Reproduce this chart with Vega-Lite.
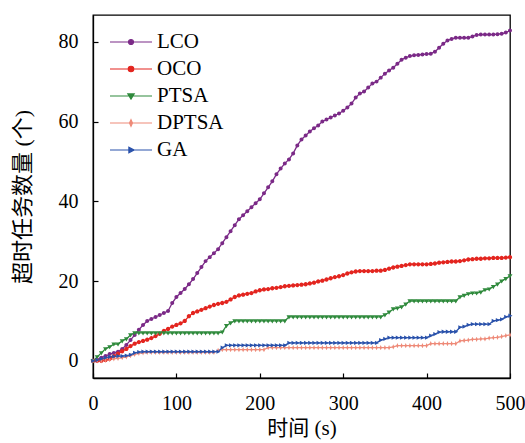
{
  "$schema": "https://vega.github.io/schema/vega-lite/v6.json",
  "width": 417,
  "height": 363,
  "autosize": {"type": "none"},
  "padding": {"left": 93, "top": 15, "right": 15, "bottom": 65},
  "background": "white",
  "config": {
    "view": {"stroke": "black", "strokeWidth": 1.3},
    "font": "Liberation Serif"
  },
  "data": {"values": [
    {"t":0,"LCO":0,"OCO":0,"PTSA":0,"DPTSA":0,"GA":0},
    {"t":5,"LCO":0.3,"OCO":0,"PTSA":1,"DPTSA":0,"GA":0.2},
    {"t":10,"LCO":0.8,"OCO":0,"PTSA":2,"DPTSA":0,"GA":0.5},
    {"t":15,"LCO":1.2,"OCO":0.2,"PTSA":3,"DPTSA":0.2,"GA":0.8},
    {"t":20,"LCO":1.7,"OCO":0.5,"PTSA":3.5,"DPTSA":0.3,"GA":1},
    {"t":25,"LCO":2,"OCO":1.2,"PTSA":4.2,"DPTSA":0.5,"GA":1.1},
    {"t":30,"LCO":2.3,"OCO":1.8,"PTSA":4.2,"DPTSA":0.6,"GA":1.2},
    {"t":35,"LCO":3,"OCO":2.4,"PTSA":5,"DPTSA":0.8,"GA":1.2},
    {"t":40,"LCO":4,"OCO":3,"PTSA":5.5,"DPTSA":1,"GA":1.3},
    {"t":45,"LCO":5.2,"OCO":3.7,"PTSA":6.5,"DPTSA":1.3,"GA":1.5},
    {"t":50,"LCO":6.5,"OCO":4.3,"PTSA":7,"DPTSA":1.6,"GA":2},
    {"t":55,"LCO":7.8,"OCO":4.7,"PTSA":7,"DPTSA":1.9,"GA":2.2},
    {"t":60,"LCO":9,"OCO":5,"PTSA":7,"DPTSA":2,"GA":2.3},
    {"t":65,"LCO":10,"OCO":5.3,"PTSA":7,"DPTSA":2.1,"GA":2.3},
    {"t":70,"LCO":10.5,"OCO":5.7,"PTSA":7,"DPTSA":2.1,"GA":2.3},
    {"t":75,"LCO":11,"OCO":6.2,"PTSA":7,"DPTSA":2.1,"GA":2.3},
    {"t":80,"LCO":11.5,"OCO":6.8,"PTSA":7,"DPTSA":2.1,"GA":2.3},
    {"t":85,"LCO":12,"OCO":7.5,"PTSA":7,"DPTSA":2.1,"GA":2.3},
    {"t":90,"LCO":12.5,"OCO":8,"PTSA":7,"DPTSA":2.1,"GA":2.3},
    {"t":95,"LCO":14.5,"OCO":8.6,"PTSA":7,"DPTSA":2.1,"GA":2.3},
    {"t":100,"LCO":16,"OCO":9,"PTSA":7,"DPTSA":2.1,"GA":2.3},
    {"t":105,"LCO":17,"OCO":9.4,"PTSA":7,"DPTSA":2.1,"GA":2.3},
    {"t":110,"LCO":18,"OCO":10,"PTSA":7,"DPTSA":2.1,"GA":2.3},
    {"t":115,"LCO":19.2,"OCO":11.2,"PTSA":7,"DPTSA":2.1,"GA":2.3},
    {"t":120,"LCO":20.5,"OCO":12,"PTSA":7,"DPTSA":2.1,"GA":2.3},
    {"t":125,"LCO":22,"OCO":12.4,"PTSA":7,"DPTSA":2.1,"GA":2.3},
    {"t":130,"LCO":23.5,"OCO":12.8,"PTSA":7,"DPTSA":2.1,"GA":2.3},
    {"t":135,"LCO":25,"OCO":13.2,"PTSA":7,"DPTSA":2.1,"GA":2.3},
    {"t":140,"LCO":26,"OCO":13.6,"PTSA":7,"DPTSA":2.1,"GA":2.3},
    {"t":145,"LCO":27,"OCO":14,"PTSA":7,"DPTSA":2.1,"GA":2.3},
    {"t":150,"LCO":28,"OCO":14.3,"PTSA":7,"DPTSA":2.6,"GA":2.3},
    {"t":155,"LCO":29.5,"OCO":14.5,"PTSA":7.2,"DPTSA":2.8,"GA":3.3},
    {"t":160,"LCO":31,"OCO":14.8,"PTSA":8.8,"DPTSA":2.8,"GA":3.9},
    {"t":165,"LCO":32.5,"OCO":15.4,"PTSA":9.5,"DPTSA":2.8,"GA":3.9},
    {"t":170,"LCO":34,"OCO":16,"PTSA":10,"DPTSA":2.8,"GA":3.9},
    {"t":175,"LCO":35.5,"OCO":16.4,"PTSA":10,"DPTSA":2.8,"GA":3.9},
    {"t":180,"LCO":36.5,"OCO":16.6,"PTSA":10,"DPTSA":2.8,"GA":3.9},
    {"t":185,"LCO":37.5,"OCO":16.8,"PTSA":10,"DPTSA":2.8,"GA":3.9},
    {"t":190,"LCO":38.5,"OCO":17,"PTSA":10,"DPTSA":2.8,"GA":3.9},
    {"t":195,"LCO":39.5,"OCO":17.4,"PTSA":10,"DPTSA":2.8,"GA":3.9},
    {"t":200,"LCO":40.5,"OCO":17.7,"PTSA":10,"DPTSA":2.8,"GA":3.9},
    {"t":205,"LCO":42,"OCO":17.9,"PTSA":10,"DPTSA":2.8,"GA":3.9},
    {"t":210,"LCO":43.5,"OCO":18,"PTSA":10,"DPTSA":3.3,"GA":3.9},
    {"t":215,"LCO":45,"OCO":18.2,"PTSA":10,"DPTSA":3.3,"GA":3.9},
    {"t":220,"LCO":46.8,"OCO":18.3,"PTSA":10,"DPTSA":3.3,"GA":3.9},
    {"t":225,"LCO":48.2,"OCO":18.5,"PTSA":10,"DPTSA":3.3,"GA":3.9},
    {"t":230,"LCO":49.5,"OCO":18.7,"PTSA":10,"DPTSA":3.3,"GA":3.9},
    {"t":235,"LCO":50.5,"OCO":18.8,"PTSA":11,"DPTSA":3.3,"GA":4.5},
    {"t":240,"LCO":52,"OCO":18.9,"PTSA":11,"DPTSA":3.3,"GA":4.5},
    {"t":245,"LCO":54,"OCO":19,"PTSA":11,"DPTSA":3.3,"GA":4.5},
    {"t":250,"LCO":55.5,"OCO":19.1,"PTSA":11,"DPTSA":3.3,"GA":4.5},
    {"t":255,"LCO":56.5,"OCO":19.2,"PTSA":11,"DPTSA":3.3,"GA":4.5},
    {"t":260,"LCO":57.5,"OCO":19.4,"PTSA":11,"DPTSA":3.3,"GA":4.5},
    {"t":265,"LCO":58.3,"OCO":19.6,"PTSA":11,"DPTSA":3.3,"GA":4.5},
    {"t":270,"LCO":59,"OCO":19.9,"PTSA":11,"DPTSA":3.3,"GA":4.5},
    {"t":275,"LCO":60,"OCO":20.1,"PTSA":11,"DPTSA":3.3,"GA":4.5},
    {"t":280,"LCO":60.5,"OCO":20.4,"PTSA":11,"DPTSA":3.3,"GA":4.5},
    {"t":285,"LCO":61,"OCO":20.7,"PTSA":11,"DPTSA":3.3,"GA":4.5},
    {"t":290,"LCO":61.5,"OCO":21,"PTSA":11,"DPTSA":3.3,"GA":4.5},
    {"t":295,"LCO":62,"OCO":21.2,"PTSA":11,"DPTSA":3.3,"GA":4.5},
    {"t":300,"LCO":62.7,"OCO":21.5,"PTSA":11,"DPTSA":3.3,"GA":4.5},
    {"t":305,"LCO":63.5,"OCO":21.9,"PTSA":11,"DPTSA":3.3,"GA":4.5},
    {"t":310,"LCO":64.5,"OCO":22.2,"PTSA":11,"DPTSA":3.3,"GA":4.5},
    {"t":315,"LCO":66,"OCO":22.4,"PTSA":11,"DPTSA":3.3,"GA":4.5},
    {"t":320,"LCO":67,"OCO":22.5,"PTSA":11,"DPTSA":3.3,"GA":4.5},
    {"t":325,"LCO":67.5,"OCO":22.5,"PTSA":11,"DPTSA":3.3,"GA":4.5},
    {"t":330,"LCO":68.5,"OCO":22.5,"PTSA":11,"DPTSA":3.3,"GA":4.5},
    {"t":335,"LCO":69.5,"OCO":22.5,"PTSA":11,"DPTSA":3.3,"GA":4.5},
    {"t":340,"LCO":70,"OCO":22.6,"PTSA":11,"DPTSA":3.3,"GA":4.5},
    {"t":345,"LCO":71,"OCO":22.6,"PTSA":11,"DPTSA":3.3,"GA":5.2},
    {"t":350,"LCO":72,"OCO":22.8,"PTSA":11.5,"DPTSA":3.3,"GA":5.5},
    {"t":355,"LCO":72.8,"OCO":23.1,"PTSA":12.2,"DPTSA":3.3,"GA":5.8},
    {"t":360,"LCO":73.5,"OCO":23.4,"PTSA":13,"DPTSA":3.5,"GA":5.8},
    {"t":365,"LCO":74.5,"OCO":23.6,"PTSA":13.2,"DPTSA":3.8,"GA":5.8},
    {"t":370,"LCO":75.5,"OCO":23.8,"PTSA":13.5,"DPTSA":3.8,"GA":5.8},
    {"t":375,"LCO":76,"OCO":24,"PTSA":14.2,"DPTSA":3.8,"GA":5.8},
    {"t":380,"LCO":76.4,"OCO":24.2,"PTSA":15,"DPTSA":3.8,"GA":5.8},
    {"t":385,"LCO":76.6,"OCO":24.2,"PTSA":15,"DPTSA":3.8,"GA":5.8},
    {"t":390,"LCO":76.7,"OCO":24.2,"PTSA":15,"DPTSA":3.8,"GA":5.8},
    {"t":395,"LCO":76.8,"OCO":24.2,"PTSA":15,"DPTSA":3.8,"GA":5.8},
    {"t":400,"LCO":76.9,"OCO":24.2,"PTSA":15,"DPTSA":3.8,"GA":5.8},
    {"t":405,"LCO":77,"OCO":24.3,"PTSA":15,"DPTSA":4.3,"GA":6.3},
    {"t":410,"LCO":77.5,"OCO":24.4,"PTSA":15,"DPTSA":4.3,"GA":6.7},
    {"t":415,"LCO":78.5,"OCO":24.6,"PTSA":15,"DPTSA":4.3,"GA":7.2},
    {"t":420,"LCO":79.5,"OCO":24.7,"PTSA":15,"DPTSA":4.3,"GA":7.3},
    {"t":425,"LCO":80.3,"OCO":24.8,"PTSA":15,"DPTSA":4.3,"GA":7.3},
    {"t":430,"LCO":80.7,"OCO":24.9,"PTSA":15,"DPTSA":4.3,"GA":7.3},
    {"t":435,"LCO":81,"OCO":24.9,"PTSA":15,"DPTSA":4.3,"GA":7.3},
    {"t":440,"LCO":81,"OCO":25,"PTSA":16,"DPTSA":5,"GA":8.4},
    {"t":445,"LCO":81,"OCO":25.2,"PTSA":16.4,"DPTSA":5.1,"GA":8.6},
    {"t":450,"LCO":81,"OCO":25.4,"PTSA":16.8,"DPTSA":5.2,"GA":9},
    {"t":455,"LCO":81.3,"OCO":25.5,"PTSA":17,"DPTSA":5.4,"GA":9.2},
    {"t":460,"LCO":81.7,"OCO":25.6,"PTSA":17,"DPTSA":5.4,"GA":9.2},
    {"t":465,"LCO":81.8,"OCO":25.6,"PTSA":17.2,"DPTSA":5.5,"GA":9.2},
    {"t":470,"LCO":81.8,"OCO":25.7,"PTSA":17.8,"DPTSA":5.5,"GA":9.2},
    {"t":475,"LCO":81.8,"OCO":25.7,"PTSA":18,"DPTSA":5.7,"GA":9.2},
    {"t":480,"LCO":81.8,"OCO":25.8,"PTSA":18.6,"DPTSA":5.8,"GA":10},
    {"t":485,"LCO":81.9,"OCO":25.8,"PTSA":19.2,"DPTSA":5.9,"GA":10.2},
    {"t":490,"LCO":82,"OCO":25.8,"PTSA":20,"DPTSA":6.1,"GA":10.4},
    {"t":495,"LCO":82.3,"OCO":25.9,"PTSA":20.6,"DPTSA":6.3,"GA":11},
    {"t":500,"LCO":82.8,"OCO":26,"PTSA":21.3,"DPTSA":6.5,"GA":11.3}
  ]},
  "transform": [
    {"fold": ["LCO", "OCO", "PTSA", "DPTSA", "GA"], "as": ["series", "value"]}
  ],
  "encoding": {
    "x": {
      "field": "t", "type": "quantitative",
      "scale": {"domain": [0, 500], "nice": false, "zero": false},
      "axis": {
        "title": "时间 (s)",
        "values": [0, 100, 200, 300, 400, 500],
        "grid": false,
        "domainColor": "black", "domainWidth": 1.3,
        "tickColor": "black", "tickSize": -5, "tickWidth": 1.2,
        "labelColor": "black", "labelFont": "Liberation Serif", "labelFontSize": 20,
        "labelPadding": 20, "labelFlush": false,
        "titleColor": "black", "titleFont": "Liberation Serif, Noto Sans CJK SC",
        "titleFontSize": 21, "titleFontWeight": "normal", "titlePadding": 4
      }
    },
    "y": {
      "field": "value", "type": "quantitative",
      "scale": {"domain": [-4.3, 86.7], "nice": false, "zero": false},
      "axis": {
        "title": "超时任务数量 (个)",
        "values": [0, 20, 40, 60, 80],
        "grid": false,
        "domainColor": "black", "domainWidth": 1.3,
        "tickColor": "black", "tickSize": -5, "tickWidth": 1.2,
        "labelColor": "black", "labelFont": "Liberation Serif", "labelFontSize": 20,
        "labelPadding": 20,
        "titleColor": "black", "titleFont": "Liberation Serif, Noto Sans CJK SC",
        "titleFontSize": 22, "titleFontWeight": "normal", "titlePadding": 24
      }
    },
    "color": {
      "field": "series", "type": "nominal",
      "scale": {
        "domain": ["LCO", "OCO", "PTSA", "DPTSA", "GA"],
        "range": ["#7b2a87", "#e3251f", "#2f8a3c", "#ee8a78", "#2a52ab"]
      },
      "legend": {
        "title": null,
        "orient": "top-left",
        "offset": 16,
        "padding": 0,
        "rowPadding": 5,
        "clipHeight": 22,
        "symbolSize": 1764,
        "symbolStrokeWidth": 1.2,
        "labelOffset": 4,
        "labelFont": "Liberation Serif",
        "labelFontSize": 21,
        "labelColor": "black",
        "encode": {
          "symbols": {
            "update": {
              "stroke": {"scale": "color", "field": "value"},
              "fill": {"scale": "color", "field": "value"},
              "opacity": {"value": 1}
            }
          }
        }
      }
    }
  },
  "layer": [
    {
      "mark": {"type": "line", "strokeWidth": 1.3}
    },
    {
      "mark": {"type": "point", "filled": true, "opacity": 1, "size": 1100, "strokeWidth": 0},
      "encoding": {
        "shape": {
          "field": "series", "type": "nominal",
          "scale": {
            "domain": ["LCO", "OCO", "PTSA", "DPTSA", "GA"],
            "range": [
              "M-1,0L1,0M-0.12,0A0.12 0.12 0 1 0 0.12,0A0.12 0.12 0 1 0 -0.12,0Z",
              "M-1,0L1,0M-0.13,0A0.13 0.13 0 1 0 0.13,0A0.13 0.13 0 1 0 -0.13,0Z",
              "M-1,0L1,0M-0.15,-0.1L0.15,-0.1L0,0.15Z",
              "M-1,0L1,0M0,-0.16L0.07,0L0,0.16L-0.07,0Z",
              "M-1,0L1,0M-0.1,-0.13L0.15,0L-0.1,0.13Z"
            ]
          },
          "legend": {
            "title": null,
            "orient": "top-left",
            "offset": 16,
            "padding": 0,
            "rowPadding": 5,
            "clipHeight": 22,
            "symbolSize": 1764,
            "symbolStrokeWidth": 1.2,
            "labelOffset": 4,
            "labelFont": "Liberation Serif",
            "labelFontSize": 21,
            "labelColor": "black",
            "encode": {
              "symbols": {
                "update": {
                  "stroke": {"scale": "color", "field": "value"},
                  "fill": {"scale": "color", "field": "value"},
                  "opacity": {"value": 1}
                }
              }
            }
          }
        }
      }
    }
  ]
}
